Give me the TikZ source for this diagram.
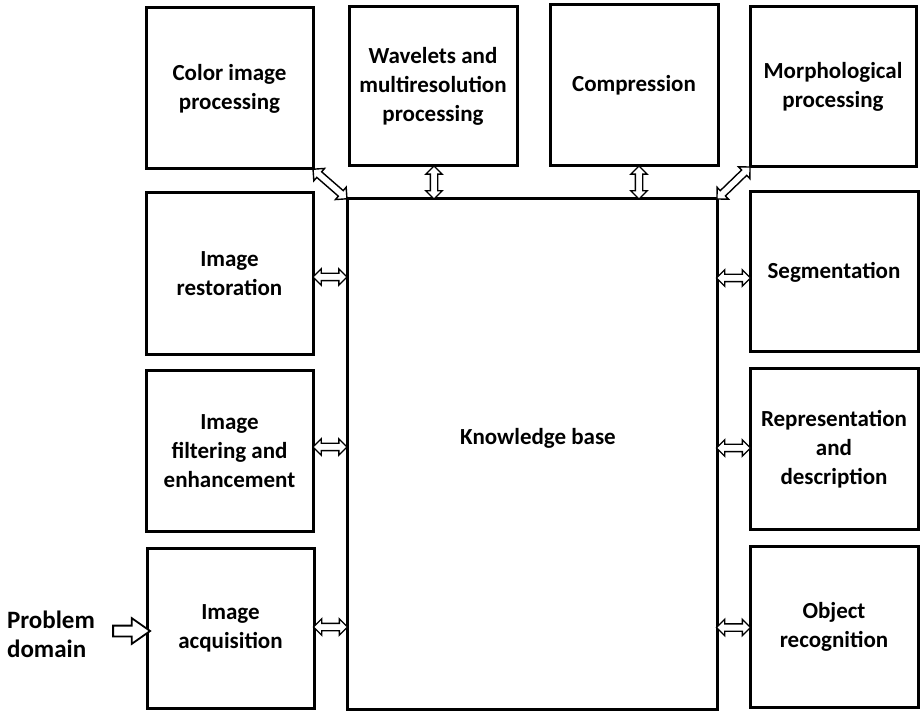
\documentclass[tikz,border=0pt]{standalone}
\usepackage{fontspec}
\setmainfont{Carlito}
\usetikzlibrary{shapes.arrows,calc}

\begin{document}
\begin{tikzpicture}[x=1pt,y=-1pt,
  lbl/.style={font=\fontsize{23}{29}\selectfont\bfseries},
  box/.style={draw, line width=3pt, align=center, inner sep=2pt, lbl},
  dbl/.style={draw, double arrow, line width=1.4pt, inner xsep=0pt, inner ysep=3pt,
    double arrow head extend=4.5pt, double arrow tip angle=90, fill=white},
  sgl/.style={draw, single arrow, line width=1.8pt, inner xsep=0pt, inner ysep=4.5pt,
    single arrow head extend=7.5pt, single arrow tip angle=70, fill=white}]
\useasboundingbox (0,0) rectangle (922,711);

% central block
\node[box, minimum width=370pt, minimum height=510pt] (kb) at (532,454) {};
\node[lbl] (kbt) at (538,438) {Knowledge base};

% top row
\node[box, minimum width=167pt, minimum height=161pt] (color) at (229.5,88.5) {Color image\\processing};
\node[box, minimum width=168pt, minimum height=159pt] (wav) at (433,86.5) {Wavelets and\\multiresolution\\processing};
\node[box, minimum width=168pt, minimum height=161pt] (comp) at (634,85.5) {Compression};
\node[box, minimum width=166pt, minimum height=160pt] (morph) at (833,87) {Morphological\\processing};

% left column
\node[box, minimum width=167pt, minimum height=162pt] (restor) at (229.5,274) {Image\\restoration};
\node[box, minimum width=167pt, minimum height=160pt] (filt) at (229.5,451) {Image\\filtering and\\enhancement};
\node[box, minimum width=167pt, minimum height=160pt] (acq) at (230.5,628) {Image\\acquisition};

% right column
\node[box, minimum width=168pt, minimum height=160pt] (seg) at (834,272) {Segmentation};
\node[box, minimum width=168pt, minimum height=160pt] (rep) at (834,449) {Representation\\and\\description};
\node[box, minimum width=168pt, minimum height=161pt] (obj) at (834,626.5) {Object\\recognition};

% input label
\node[align=left, font=\fontsize{25}{29}\selectfont\bfseries, inner sep=0pt] (pd) at (51,634) {Problem\\domain};

% side connectors
\path (restor.east) ++(0,3) coordinate (a1);
\path (a1) -- (a1 -| kb.west) node[midway, dbl, minimum height=34pt] {};
\path (filt.east) ++(0,-4) coordinate (a2);
\path (a2) -- (a2 -| kb.west) node[midway, dbl, minimum height=34pt] {};
\path (acq.east) ++(0,-1) coordinate (a3);
\path (a3) -- (a3 -| kb.west) node[midway, dbl, minimum height=34pt] {};
\path (seg.west) ++(0,6) coordinate (b1);
\path (b1) -- (b1 -| kb.east) node[midway, dbl, minimum height=34pt] {};
\path (rep.west) ++(0,-1) coordinate (b2);
\path (b2) -- (b2 -| kb.east) node[midway, dbl, minimum height=34pt] {};
\path (obj.west) ++(0,1) coordinate (b3);
\path (b3) -- (b3 -| kb.east) node[midway, dbl, minimum height=34pt] {};

% top connectors
\path (wav.south) ++(1,0) coordinate (c1);
\path (c1) -- (c1 |- kb.north) node[midway, sloped, dbl, minimum height=33pt] {};
\path (comp.south) ++(5,0) coordinate (c2);
\path (c2) -- (c2 |- kb.north) node[midway, sloped, dbl, minimum height=33pt] {};
\path (color.south east) -- (kb.north west) node[midway, sloped, dbl, minimum height=45pt] {};
\path (kb.north east) -- (morph.south west) node[midway, sloped, dbl, minimum height=46pt] {};

% problem domain input
\coordinate (pdt) at (110,631);
\path (pdt) -- (pdt -| acq.west) node[midway, sgl, minimum height=37pt] {};
\end{tikzpicture}
\end{document}
